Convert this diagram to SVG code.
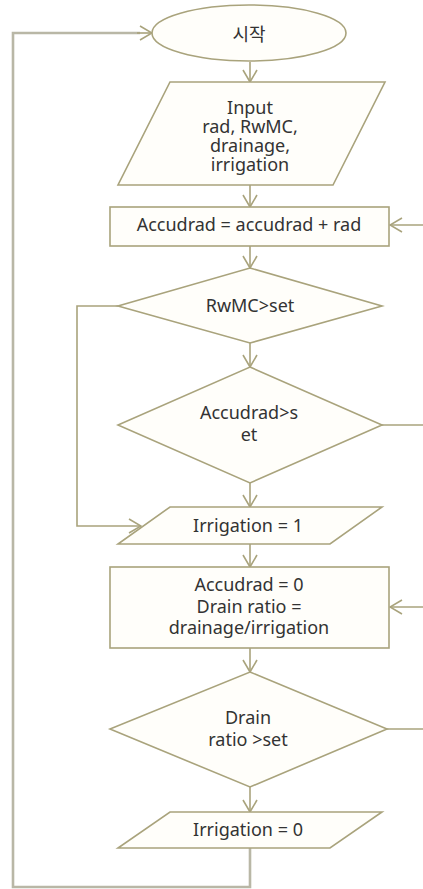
<svg xmlns="http://www.w3.org/2000/svg" width="423" height="889" viewBox="0 0 423 889">
  <style>
    .shape { fill: #fffefa; stroke: #a9a37c; stroke-width: 1.6; }
    .wire { fill: none; stroke: #a9a37c; stroke-width: 1.6; }
    .loop { fill: none; stroke: #b9b7a6; stroke-width: 2.6; }
    .label { font-family: "Noto Sans", "Noto Sans CJK KR", sans-serif; font-size: 18px; fill: #333333; text-anchor: middle; }
    .head { fill: none; stroke: #a9a37c; stroke-width: 1.6; }
  </style>
  <defs>
    <marker id="arrow" viewBox="0 0 14 16" refX="13" refY="8" markerWidth="14" markerHeight="16" markerUnits="userSpaceOnUse" orient="auto">
      <path class="head" d="M1,1 L13,8 L1,15"/>
    </marker>
  </defs>

  <g id="connectors">
    <!-- return loop from the end back to the start -->
    <path class="loop" d="M250,848 V887 H13 V33 H140"/>
    <path class="wire" d="M137,33 H152" marker-end="url(#arrow)"/>
    <!-- main flow -->
    <path class="wire" d="M250,62 V82" marker-end="url(#arrow)"/>
    <path class="wire" d="M250,185 V207" marker-end="url(#arrow)"/>
    <path class="wire" d="M250,246 V268" marker-end="url(#arrow)"/>
    <path class="wire" d="M250,343 V367" marker-end="url(#arrow)"/>
    <path class="wire" d="M250,483 V507" marker-end="url(#arrow)"/>
    <path class="wire" d="M250,544 V567" marker-end="url(#arrow)"/>
    <path class="wire" d="M250,648 V672" marker-end="url(#arrow)"/>
    <path class="wire" d="M250,787 V812" marker-end="url(#arrow)"/>
    <!-- RwMC branch around the second test -->
    <path class="wire" d="M118,306 H77 V526 H141" marker-end="url(#arrow)"/>
    <!-- right-hand branches leaving the frame -->
    <path class="wire" d="M423,225 H390" marker-end="url(#arrow)"/>
    <path class="wire" d="M382,425 H423"/>
    <path class="wire" d="M423,607 H390" marker-end="url(#arrow)"/>
    <path class="wire" d="M387,729 H423"/>
  </g>

  <g id="start">
    <ellipse class="shape" cx="249" cy="33" rx="97" ry="28"/>
    <text class="label" x="249" y="41">시작</text>
  </g>

  <g id="input">
    <polygon class="shape" points="170,82 385,82 333,185 118,185"/>
    <text class="label" x="250" y="114">Input<tspan x="250" dy="19">rad, RwMC,</tspan><tspan x="250" dy="19">drainage,</tspan><tspan x="250" dy="19">irrigation</tspan></text>
  </g>

  <g id="accumulate">
    <rect class="shape" x="110" y="207" width="279" height="39"/>
    <text class="label" x="249" y="231">Accudrad = accudrad + rad</text>
  </g>

  <g id="test-rwmc">
    <polygon class="shape" points="250,268 382,306 250,343 118,306"/>
    <text class="label" x="250" y="312">RwMC&gt;set</text>
  </g>

  <g id="test-accudrad">
    <polygon class="shape" points="250,367 382,425 250,483 118,425"/>
    <text class="label" x="249" y="419">Accudrad&gt;s<tspan x="249" dy="22">et</tspan></text>
  </g>

  <g id="irrigate-on">
    <polygon class="shape" points="170,507 382,507 330,544 118,544"/>
    <text class="label" x="248" y="532">Irrigation = 1</text>
  </g>

  <g id="reset">
    <rect class="shape" x="110" y="567" width="279" height="81"/>
    <text class="label" x="249" y="591">Accudrad = 0<tspan x="249" dy="22">Drain ratio =</tspan><tspan x="249" dy="21">drainage/irrigation</tspan></text>
  </g>

  <g id="test-drain">
    <polygon class="shape" points="250,672 387,729 250,787 110,729"/>
    <text class="label" x="248" y="724">Drain<tspan x="248" dy="22">ratio &gt;set</tspan></text>
  </g>

  <g id="irrigate-off">
    <polygon class="shape" points="170,812 382,812 330,848 118,848"/>
    <text class="label" x="248" y="836">Irrigation = 0</text>
  </g>
</svg>
